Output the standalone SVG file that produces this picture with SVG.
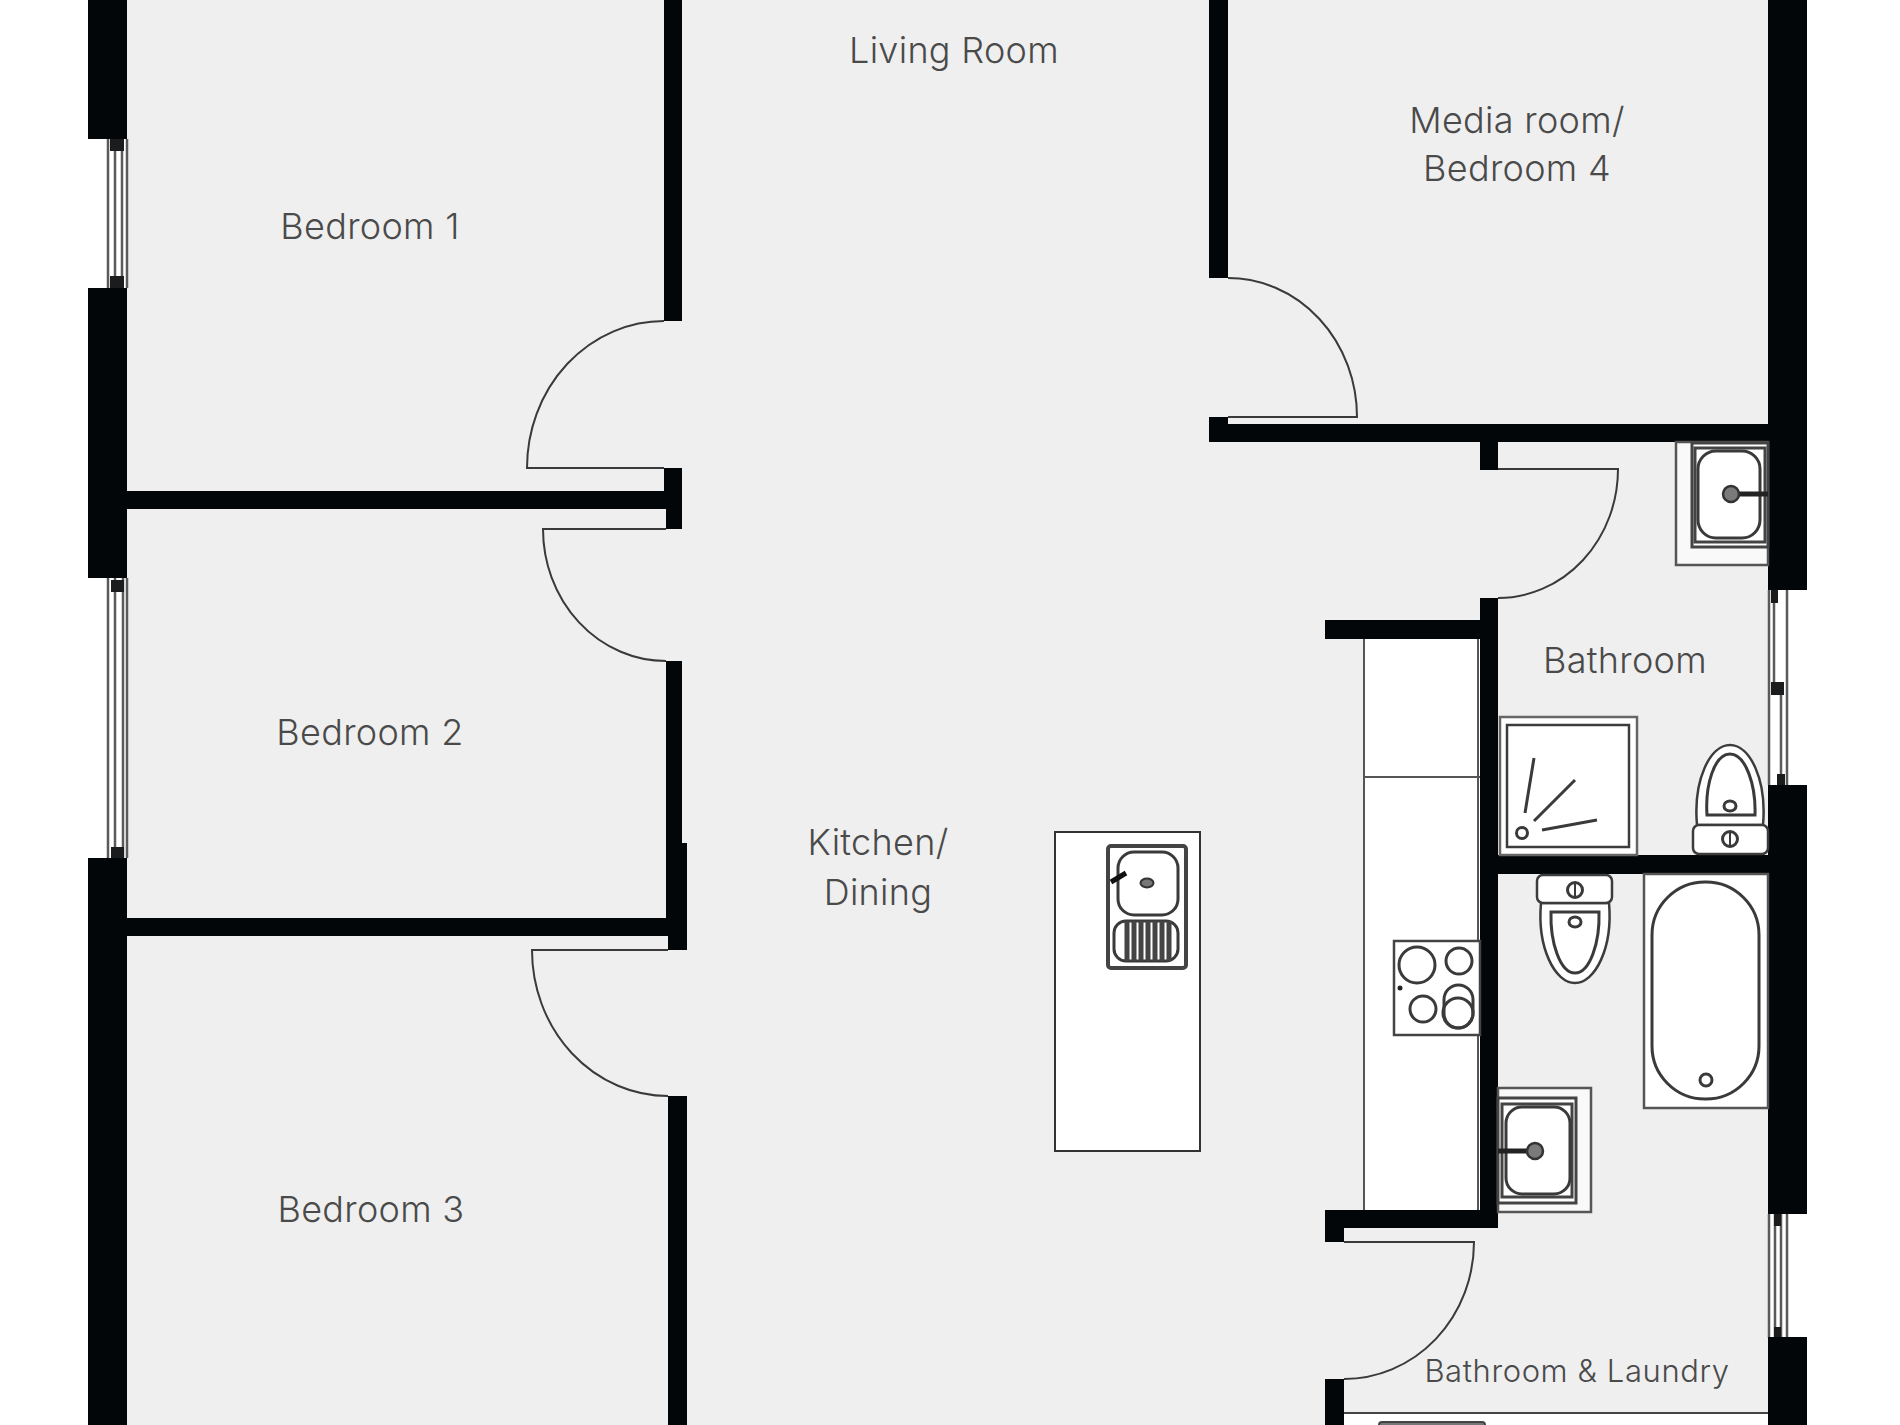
<svg xmlns="http://www.w3.org/2000/svg" width="1900" height="1425" viewBox="0 0 1900 1425">
<style>
.w{fill:#020608}
.d{fill:none;stroke:#3a3a3a;stroke-width:2}
.f{fill:#fff;stroke:#3c3c3c;stroke-width:2.5}
.f2{fill:#fff;stroke:#444;stroke-width:2.5}
.n{fill:none;stroke:#3a3a3a;stroke-width:3}
.g{fill:#7a7a7a;stroke:#333;stroke-width:2.5}
.wl{stroke:#5a5a5a;stroke-width:2.5;fill:none}
.b{fill:#1a1c1e}
text{font-family:"Inter","Noto Sans",sans-serif;font-size:36px;font-weight:300;letter-spacing:.3px;fill:#4a4a4a;text-anchor:middle}
</style>
<rect width="1900" height="1425" fill="#fff"/>
<rect x="127" y="0" width="1641" height="1425" fill="#efefef"/>
<rect x="1344" y="1413" width="424" height="12" fill="#fff"/>
<line x1="1344" y1="1413" x2="1768" y2="1413" stroke="#444" stroke-width="2"/>

<g id="window-bedroom-1"><rect x="108" y="139" width="19" height="149" fill="#fff"/><path class="wl" d="M108 139V288M115 139V288M122 139V288M127 139V288"/><rect class="b" x="110" y="139" width="14" height="12"/><rect class="b" x="110" y="276" width="14" height="12"/></g>
<g id="window-bedroom-2"><rect x="108" y="578" width="19" height="280" fill="#fff"/><path class="wl" d="M108 578V858M115 578V858M123 578V858M127 578V858"/><rect class="b" x="111" y="580" width="13" height="12"/><rect class="b" x="111" y="847" width="13" height="11"/></g>
<g id="window-bathroom"><rect x="1768" y="590" width="20" height="195" fill="#fff"/><path class="wl" d="M1769 590V785M1787 590V785M1774 590V682M1781 695V785"/><rect class="b" x="1771" y="590" width="7" height="13"/><rect class="b" x="1771" y="682" width="13" height="13"/><rect class="b" x="1777" y="774" width="8" height="11"/></g>
<g id="window-laundry"><rect x="1768" y="1214" width="20" height="124" fill="#fff"/><path class="wl" d="M1769 1214V1338M1787 1214V1338M1775 1214V1338M1781 1214V1338"/><rect class="b" x="1774" y="1214" width="7" height="12"/><rect class="b" x="1774" y="1327" width="7" height="11"/></g>

<g id="walls">
<rect class="w" x="88" y="0" width="39" height="139"/>
<rect class="w" x="88" y="288" width="39" height="290"/>
<rect class="w" x="88" y="858" width="39" height="567"/>
<rect class="w" x="1768" y="0" width="39" height="590"/>
<rect class="w" x="1768" y="785" width="39" height="429"/>
<rect class="w" x="1768" y="1337" width="39" height="88"/>
<rect class="w" x="664" y="0" width="18" height="321"/>
<rect class="w" x="664" y="468" width="18" height="23"/>
<rect class="w" x="666" y="491" width="16" height="38"/>
<rect class="w" x="127" y="491" width="539" height="18"/>
<rect class="w" x="666" y="661" width="16" height="275"/>
<rect class="w" x="668" y="843" width="19" height="107"/>
<rect class="w" x="127" y="918" width="541" height="18"/>
<rect class="w" x="668" y="1096" width="19" height="329"/>
<rect class="w" x="1209" y="0" width="19" height="278"/>
<rect class="w" x="1209" y="417" width="19" height="25"/>
<rect class="w" x="1209" y="424" width="559" height="18"/>
<rect class="w" x="1480" y="442" width="18" height="28"/>
<rect class="w" x="1480" y="598" width="18" height="630"/>
<rect class="w" x="1325" y="620" width="155" height="19"/>
<rect class="w" x="1498" y="855" width="270" height="19"/>
<rect class="w" x="1325" y="1210" width="173" height="18"/>
<rect class="w" x="1325" y="1228" width="19" height="14"/>
<rect class="w" x="1325" y="1379" width="19" height="46"/>
</g>

<g id="doors">
<path class="d" d="M664 468H527A137 147 0 0 1 664 321"/>
<path class="d" d="M666 529H543A123 132 0 0 0 666 661"/>
<path class="d" d="M668 950H532A136 146 0 0 0 668 1096"/>
<path class="d" d="M1228 278A129 139 0 0 1 1357 417H1228"/>
<path class="d" d="M1498 469H1618A120 129 0 0 1 1498 598"/>
<path class="d" d="M1344 1242H1474A130 137 0 0 1 1344 1379"/>
</g>

<g id="kitchen-counter">
<rect x="1364" y="639" width="116" height="571" fill="#fff"/>
<path d="M1364 639V1210M1478 639V1210M1364 777H1480" fill="none" stroke="#555" stroke-width="2"/>
</g>
<g id="hob">
<rect class="f2" x="1394" y="941" width="86" height="94"/>
<circle class="n" cx="1417" cy="965" r="18"/>
<circle class="n" cx="1459" cy="961" r="13"/>
<circle class="n" cx="1423" cy="1009" r="13"/>
<rect class="n" x="1444" y="985" width="29" height="43" rx="14.5"/>
<circle class="n" cx="1458" cy="1013" r="15"/>
<circle cx="1400" cy="988" r="2.5" fill="#222"/>
</g>
<g id="island">
<rect x="1055" y="832" width="145" height="319" fill="#fff" stroke="#333" stroke-width="2"/>
<rect x="1108" y="846" width="78" height="122" rx="3" fill="#fff" stroke="#444" stroke-width="4"/>
<rect class="n" x="1118" y="852" width="60" height="63" rx="16"/>
<ellipse cx="1147" cy="883" rx="6.5" ry="4.5" fill="#777" stroke="#333" stroke-width="2"/>
<path d="M1111 882L1126 873" stroke="#111" stroke-width="5" fill="none"/>
<rect class="n" x="1114" y="921" width="64" height="40" rx="12"/>
<path d="M1127 921V961M1134 921V961M1141 921V961M1148 921V961M1155 921V961M1162 921V961M1169 921V961" stroke="#444" stroke-width="5" fill="none"/>
</g>
<g id="sink-bathroom">
<path d="M1676 442V565H1768V442Z" fill="#f9f9f9" stroke="#555" stroke-width="2.5"/>
<rect x="1692" y="443" width="76" height="104" fill="#fff" stroke="#444" stroke-width="3"/>
<rect x="1695" y="448" width="70" height="94" fill="#fff" stroke="#444" stroke-width="3"/>
<rect class="n" x="1698" y="451" width="62" height="87" rx="18"/>
<path d="M1731 494H1768" stroke="#222" stroke-width="5"/>
<circle class="g" cx="1731" cy="494" r="8"/>
</g>
<g id="toilet-bathroom">
<path class="f" d="M1697 825C1693 780 1710 745 1730 745C1750 745 1767 780 1763 825Z"/>
<path class="n" d="M1707 815C1705 786 1714 754 1730 754C1746 754 1756 786 1755 815Z"/>
<ellipse class="n" cx="1730" cy="806" rx="6" ry="5"/>
<rect class="f" x="1693" y="825" width="75" height="29" rx="6"/>
<circle class="n" cx="1730" cy="839" r="7.5"/>
<path d="M1730 832V846" stroke="#3a3a3a" stroke-width="2"/>
</g>
<g id="shower">
<rect x="1500" y="717" width="137" height="138" fill="#fff" stroke="#666" stroke-width="2.5"/>
<rect x="1507" y="725" width="122" height="122" fill="#fff" stroke="#3c3c3c" stroke-width="2.5"/>
<circle class="n" cx="1522" cy="833" r="5.5"/>
<path class="n" d="M1534 758L1525 813M1575 780L1534 821M1597 820L1542 830"/>
</g>
<g id="toilet-laundry">
<path class="f" d="M1541 903C1537 948 1555 983 1575 983C1595 983 1613 948 1609 903Z"/>
<path class="n" d="M1551 912C1550 942 1560 973 1575 973C1590 973 1600 942 1599 912Z"/>
<ellipse class="n" cx="1575" cy="922" rx="6" ry="5"/>
<rect class="f" x="1537" y="875" width="75" height="28" rx="6"/>
<circle class="n" cx="1575" cy="890" r="7.5"/>
<path d="M1575 883V897" stroke="#3a3a3a" stroke-width="2"/>
</g>
<g id="bath">
<rect x="1644" y="874" width="124" height="234" fill="#fff" stroke="#555" stroke-width="2.5"/>
<rect class="n" x="1652" y="882" width="107" height="217" rx="53"/>
<circle class="n" cx="1706" cy="1080" r="6"/>
</g>
<g id="sink-laundry">
<rect x="1498" y="1088" width="93" height="124" fill="#f9f9f9" stroke="#555" stroke-width="2.5"/>
<rect x="1498" y="1098" width="78" height="105" fill="#fff" stroke="#444" stroke-width="3"/>
<rect x="1502" y="1104" width="70" height="93" fill="#fff" stroke="#444" stroke-width="3"/>
<rect class="n" x="1506" y="1107" width="64" height="87" rx="16"/>
<path d="M1498 1151H1535" stroke="#222" stroke-width="5"/>
<circle class="g" cx="1535" cy="1151" r="8"/>
</g>
<g id="laundry-fixture">
<rect x="1379" y="1422" width="106" height="10" rx="3" fill="#777" stroke="#444" stroke-width="2"/>
</g>

<g id="labels">
<text x="954" y="63">Living Room</text>
<text x="1517" y="133">Media room/</text>
<text x="1517" y="181">Bedroom 4</text>
<text x="370" y="239">Bedroom 1</text>
<text x="370" y="745">Bedroom 2</text>
<text x="371" y="1222">Bedroom 3</text>
<text x="1625" y="673">Bathroom</text>
<text x="878" y="855">Kitchen/</text>
<text x="878" y="905">Dining</text>
<text x="1577" y="1382" style="font-size:31px;letter-spacing:.6px">Bathroom &amp; Laundry</text>
</g>
</svg>
